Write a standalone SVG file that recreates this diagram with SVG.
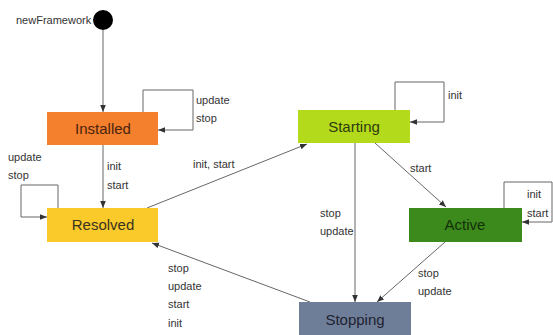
<svg xmlns="http://www.w3.org/2000/svg" width="553" height="335" viewBox="0 0 553 335">
<defs>
<marker id="arr" viewBox="0 0 10 10" refX="10" refY="5" markerWidth="7" markerHeight="7" orient="auto" markerUnits="userSpaceOnUse">
<path d="M0,1 L10,5 L0,9 Z" fill="#333"/>
</marker>
<style>
.lbl{font-family:"Liberation Sans",Arial,sans-serif;font-size:11px;fill:#333}
.node{font-family:"Liberation Sans",Arial,sans-serif;font-size:15px;text-anchor:middle}
.edge{fill:none;stroke:#666;stroke-width:1;marker-end:url(#arr)}
</style>
</defs>
<rect width="553" height="335" fill="#ffffff"/>
<g id="connectors">
<path class="edge" d="M103,30 L103,112"/>
<path class="edge" d="M143,112 L143,90 L193,90 L193,130 L158,130"/>
<path class="edge" d="M103,145 L103,208"/>
<path class="edge" d="M58,208 L58,185 L21,185 L21,217 L47,217"/>
<path class="edge" d="M147,208 L307,144"/>
<path class="edge" d="M395,110 L395,82 L444,82 L444,122 L410,122"/>
<path class="edge" d="M375,143 L446,207"/>
<path class="edge" d="M504,208 L504,182 L552,182 L552,222 L522,222"/>
<path class="edge" d="M355,143 L355,302"/>
<path class="edge" d="M445,242 L377,302"/>
<path class="edge" d="M310,302 L152,243"/>
</g>
<g id="edge-labels">
<text class="lbl" x="196" y="104">update</text>
<text class="lbl" x="196" y="122">stop</text>
<text class="lbl" x="107" y="170">init</text>
<text class="lbl" x="107" y="189">start</text>
<text class="lbl" x="8" y="161">update</text>
<text class="lbl" x="8" y="179">stop</text>
<text class="lbl" x="193" y="168">init, start</text>
<text class="lbl" x="448" y="99">init</text>
<text class="lbl" x="410" y="172">start</text>
<text class="lbl" x="527" y="198">init</text>
<text class="lbl" x="527" y="217">start</text>
<text class="lbl" x="320" y="217">stop</text>
<text class="lbl" x="320" y="235">update</text>
<text class="lbl" x="418" y="277">stop</text>
<text class="lbl" x="418" y="295">update</text>
<text class="lbl" x="168" y="272">stop</text>
<text class="lbl" x="168" y="290">update</text>
<text class="lbl" x="168" y="308">start</text>
<text class="lbl" x="168" y="327">init</text>
</g>
<g id="start">
<circle cx="103" cy="20" r="10" fill="#000"/>
<text class="lbl" x="16" y="24">newFramework</text>
</g>
<g id="installed">
<rect x="47" y="112" width="111" height="33" fill="#F47F2C"/>
<text class="node" x="103" y="134" fill="#4a2410">Installed</text>
</g>
<g id="resolved">
<rect x="47" y="208" width="111" height="34" fill="#F9CA2A"/>
<text class="node" x="103" y="230" fill="#3a3320">Resolved</text>
</g>
<g id="starting">
<rect x="298" y="110" width="112" height="33" fill="#B4DA1C"/>
<text class="node" x="354" y="132" fill="#2e3a10">Starting</text>
</g>
<g id="active">
<rect x="409" y="208" width="113" height="34" fill="#3C8A1C"/>
<text class="node" x="465" y="230" fill="#13300a">Active</text>
</g>
<g id="stopping">
<rect x="299" y="302" width="112" height="40" fill="#6F7E98"/>
<text class="node" x="355" y="325" fill="#1e2230">Stopping</text>
</g>
</svg>
